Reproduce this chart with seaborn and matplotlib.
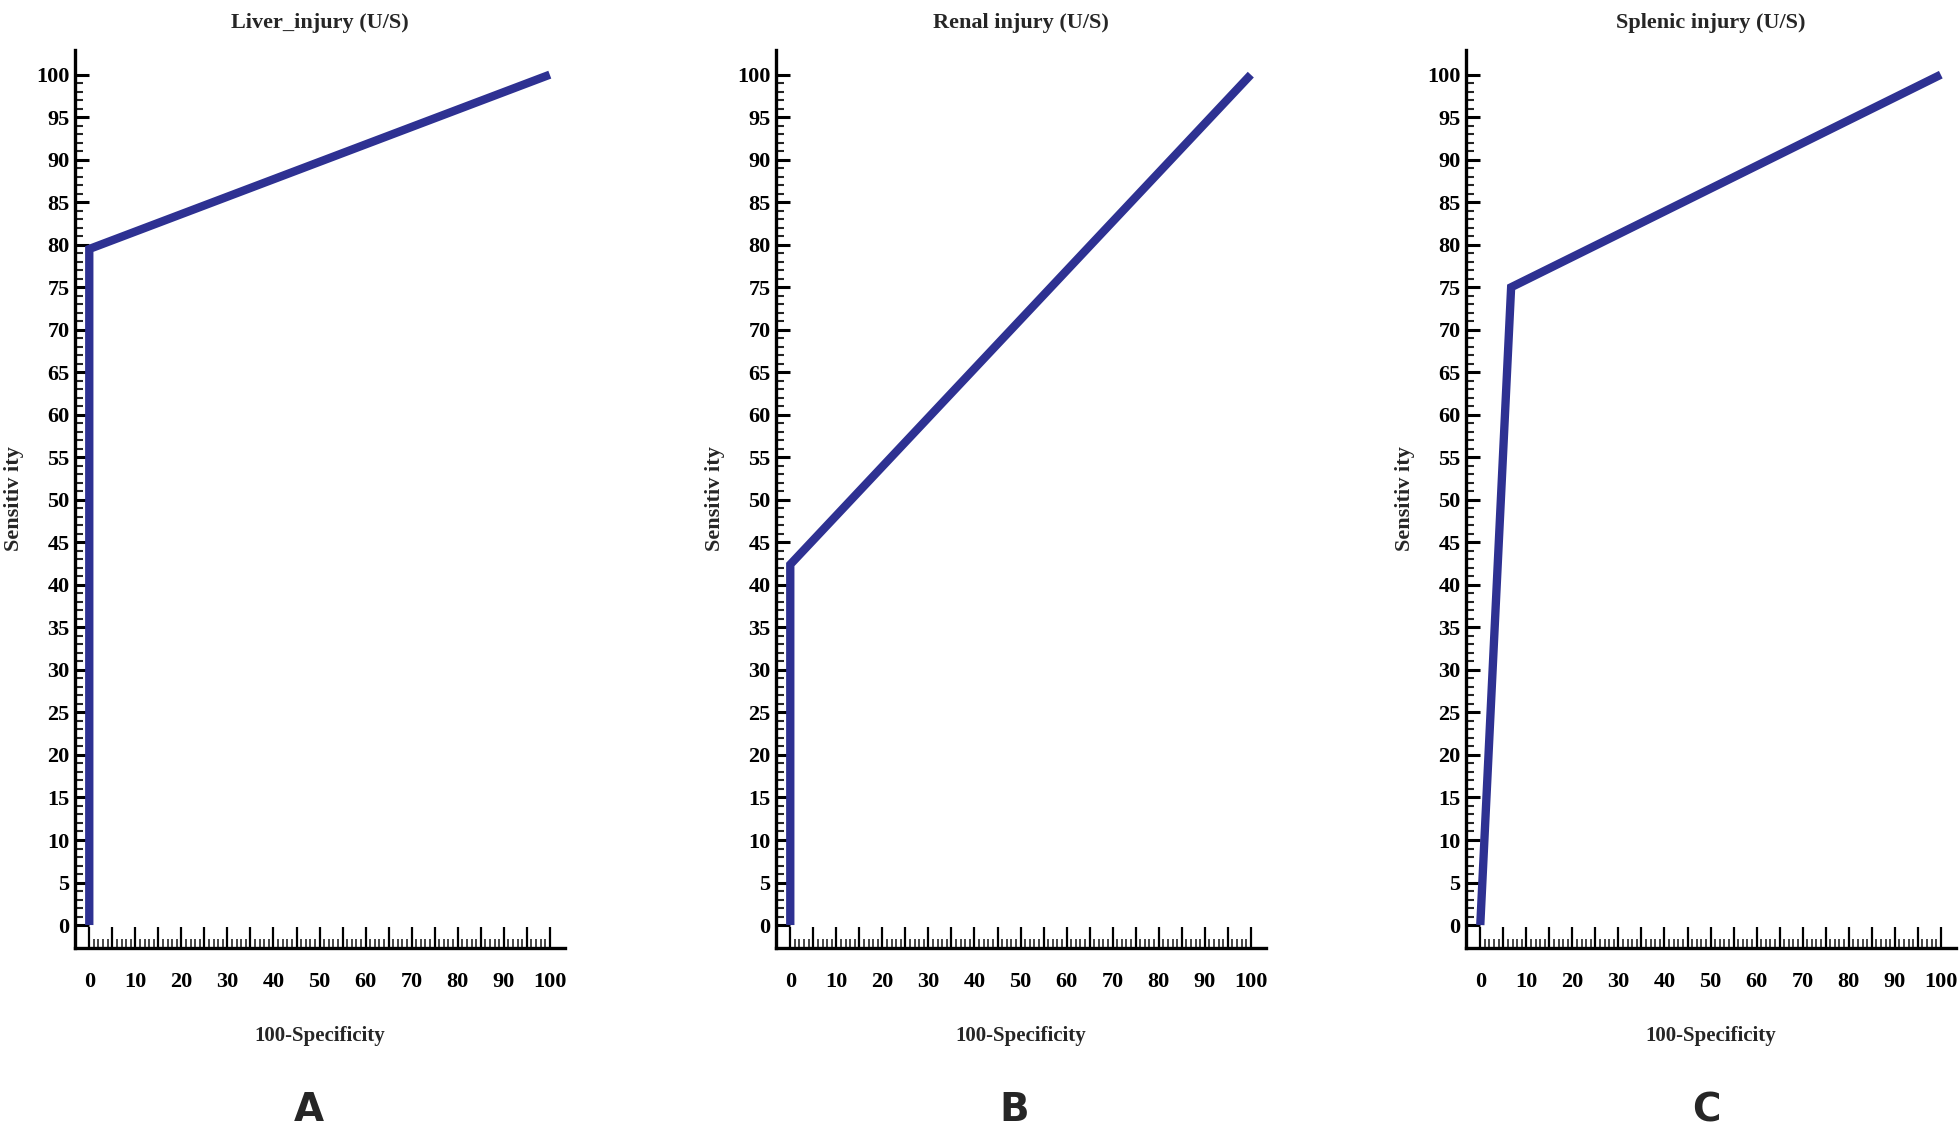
import numpy as np
import pandas as pd
import matplotlib
matplotlib.use("Agg")
import matplotlib.pyplot as plt
from matplotlib.ticker import FixedLocator, FuncFormatter
import seaborn as sns

# ---- data ----
titles = ["Liver_injury (U/S)", "Renal injury (U/S)", "Splenic injury (U/S)"]
panel_letters = ["A", "B", "C"]

fpr_liver = [0, 0, 100]
sens_liver = [0, 79.5, 100]
fpr_renal = [0, 0, 100]
sens_renal = [0, 42.4, 100]
fpr_splenic = [0, 6.7, 100]
sens_splenic = [0, 75, 100]

x_major = list(range(0, 101, 5))
x_minor = list(range(0, 101, 1))
y_major = list(range(0, 101, 5))
y_minor = list(range(0, 101, 1))

xlabel = "100-Specificity"
ylabel = "Sensitiv ity"

line_color = "#2E3192"

sns.set_theme(style="white")
plt.rcParams["font.family"] = ["Liberation Serif", "DejaVu Serif"]

fig = plt.figure(figsize=(19.59, 11.32), dpi=100)

lefts = [75 / 1959, 776 / 1959, 1466 / 1959]
width = 490 / 1959
bottom = 1 - 948 / 1132
height = (948 - 50) / 1132
letter_x = [309 / 1959, 1014 / 1959, 1706 / 1959]

series = [(fpr_liver, sens_liver), (fpr_renal, sens_renal), (fpr_splenic, sens_splenic)]

for i, ((fx, sy), title) in enumerate(zip(series, titles)):
    ax = fig.add_axes([lefts[i], bottom, width, height])
    df = pd.DataFrame({"fpr": fx, "sens": sy})
    sns.lineplot(data=df, x="fpr", y="sens", estimator=None, sort=False,
                 color=line_color, linewidth=6.0, ax=ax, clip_on=False,
                 solid_capstyle="butt", solid_joinstyle="miter")
    ax.set_xlim(-3.1, 103.3)
    ax.set_ylim(-2.7, 102.9)
    for s in ["top", "right"]:
        ax.spines[s].set_visible(False)
    for s in ["left", "bottom"]:
        ax.spines[s].set_linewidth(2.4)
        ax.spines[s].set_color("black")

    ax.xaxis.set_major_locator(FixedLocator(x_major))
    ax.xaxis.set_minor_locator(FixedLocator([v for v in x_minor if v % 5]))
    ax.xaxis.set_major_formatter(FuncFormatter(lambda v, p: f"{int(v)}" if int(v) % 10 == 0 else ""))
    ax.yaxis.set_major_locator(FixedLocator(y_major))
    ax.yaxis.set_minor_locator(FixedLocator([v for v in y_minor if v % 5]))
    ax.yaxis.set_major_formatter(FuncFormatter(lambda v, p: f"{int(v)}"))

    ax.tick_params(axis="x", which="major", direction="in", length=15, width=1.6,
                   pad=17, labelsize=16, colors="black", bottom=True)
    ax.tick_params(axis="x", which="minor", direction="in", length=6.5, width=1.2, bottom=True)
    ax.tick_params(axis="y", which="major", direction="in", length=10, width=2.2,
                   pad=4, labelsize=16, colors="black", left=True)
    ax.tick_params(axis="y", which="minor", direction="in", length=6, width=1.5, left=True)
    for lab in ax.get_xticklabels() + ax.get_yticklabels():
        lab.set_fontweight("bold")

    ax.set_title(title, fontsize=16, fontweight="bold", pad=16)
    ax.set_xlabel(xlabel, fontsize=15, fontweight="bold", labelpad=25)
    ax.set_ylabel(ylabel, fontsize=16, fontweight="bold", labelpad=9)

    fig.text(letter_x[i], 1 - 1110 / 1132, panel_letters[i], ha="center", va="center",
             fontsize=28, fontweight="bold", family=["DejaVu Sans"])

fig.savefig("out.png", dpi=100, facecolor="white")
